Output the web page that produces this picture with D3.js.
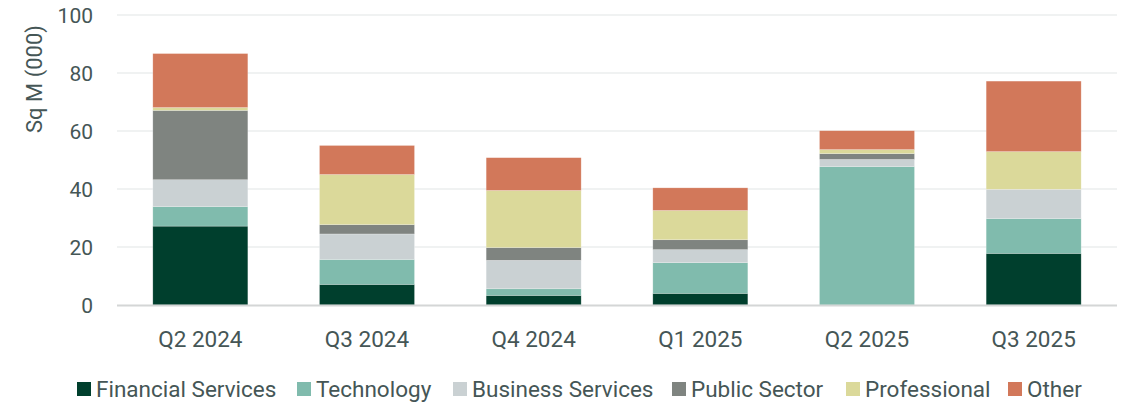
<!DOCTYPE html>
<html>
<head>
<meta charset="utf-8">
<script src="https://cdn.jsdelivr.net/npm/d3@7"></script>
<style>
  body { margin: 0; background: #fff; }
  text { font-family: Roboto, "Open Sans", sans-serif; fill: #455656; }
</style>
</head>
<body>
<div id="chart"></div>
<script>
const quarters = ['Q2 2024', 'Q3 2024', 'Q4 2024', 'Q1 2025', 'Q2 2025', 'Q3 2025'];
const sectors = ['Financial Services', 'Technology', 'Business Services', 'Public Sector', 'Professional', 'Other'];
const colors = ['#003f2d', '#80bbad', '#cad1d3', '#7f8480', '#dbd99a', '#d2785a'];

const financial = [27.2, 7.1, 3.3, 4.0, 0, 17.8];
const technology = [6.7, 8.6, 2.3, 10.6, 47.7, 12.0];
const business = [9.3, 8.8, 9.8, 4.5, 2.5, 10.1];
const publicSector = [23.9, 3.2, 4.4, 3.4, 2.0, 0];
const professional = [1.0, 17.3, 19.7, 10.1, 1.4, 13.0];
const other = [18.6, 10.0, 11.3, 7.8, 6.5, 24.3];

const yTicks = [0, 20, 40, 60, 80, 100];

const seriesValues = [financial, technology, business, publicSector, professional, other];
const rows = quarters.map((q, i) => {
  const row = { quarter: q };
  sectors.forEach((s, j) => { row[s] = seriesValues[j][i]; });
  return row;
});

const width = 1125, height = 404;
const margin = { top: 15, right: 8, bottom: 99, left: 117 };

const svg = d3.select('#chart').append('svg')
  .attr('width', width)
  .attr('height', height);

const x = d3.scaleBand()
  .domain(quarters)
  .range([margin.left, width - margin.right])
  .paddingInner(0.43)
  .paddingOuter(0.215);

const y = d3.scaleLinear()
  .domain([0, 100])
  .range([height - margin.bottom, margin.top]);

// gridlines
svg.append('g')
  .selectAll('line').data(yTicks.filter(d => d > 0)).enter().append('line')
  .attr('x1', margin.left)
  .attr('x2', width - margin.right)
  .attr('y1', d => y(d))
  .attr('y2', d => y(d))
  .attr('stroke', '#e1e6e5')
  .attr('stroke-width', 1.2);

// y labels
svg.append('g')
  .selectAll('text').data(yTicks).enter().append('text')
  .attr('x', 93)
  .attr('y', d => y(d))
  .attr('dy', '0.38em')
  .attr('text-anchor', 'end')
  .style('font-size', '21px')
  .text(d => d);

svg.append('text')
  .attr('transform', 'translate(42, 79) rotate(-90)')
  .attr('text-anchor', 'middle')
  .style('font-size', '22px')
  .text('Sq M (000)');

// stacked bars
const stack = d3.stack().keys(sectors)(rows);
svg.append('g')
  .selectAll('g').data(stack).enter().append('g')
  .attr('fill', (d, i) => colors[i])
  .selectAll('rect').data(d => d).enter().append('rect')
  .attr('x', d => x(d.data.quarter))
  .attr('width', x.bandwidth())
  .attr('y', d => y(d[1]))
  .attr('height', d => y(d[0]) - y(d[1]))
  .attr('stroke', '#ffffff')
  .attr('stroke-opacity', 0.35)
  .attr('stroke-width', 0.6);

// baseline
svg.append('line')
  .attr('x1', margin.left)
  .attr('x2', width - margin.right)
  .attr('y1', y(0) + 0.5)
  .attr('y2', y(0) + 0.5)
  .attr('stroke', '#d4d6d6')
  .attr('stroke-width', 2);

// x labels
svg.append('g')
  .selectAll('text').data(quarters).enter().append('text')
  .attr('x', d => x(d) + x.bandwidth() / 2)
  .attr('y', 347)
  .attr('text-anchor', 'middle')
  .style('font-size', '22.5px')
  .text(d => d);

// legend
const legendX = [77, 297, 453, 672, 846, 1008];
const legend = svg.append('g')
  .selectAll('g').data(sectors).enter().append('g')
  .attr('transform', (d, i) => `translate(${legendX[i]}, 389)`);
legend.append('rect')
  .attr('y', -7)
  .attr('width', 14)
  .attr('height', 14)
  .attr('fill', (d, i) => colors[i]);
legend.append('text')
  .attr('x', 19)
  .attr('y', 8)
  .style('font-size', '22.5px')
  .text(d => d);
</script>
</body>
</html>
